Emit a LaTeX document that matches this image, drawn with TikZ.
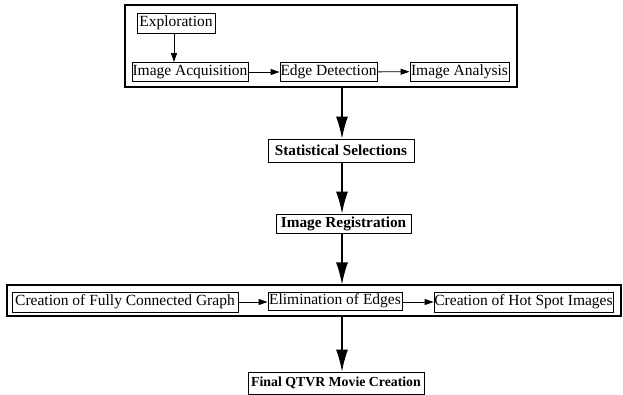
\documentclass[tikz,border=0pt]{standalone}
\usepackage{fontspec}
\setmainfont{Liberation Serif}
\usetikzlibrary{arrows.meta}
\begin{document}
\begin{tikzpicture}[x=1pt,y=-1pt,
  box/.style={draw, line width=0.9pt, inner sep=0pt, font=\fontsize{15.5}{18}\selectfont},
  bbox/.style={draw, line width=0.9pt, inner sep=0pt},
  frame/.style={draw, line width=1.1pt, inner sep=0pt},
  small/.style={line width=0.9pt, -{Triangle[length=9pt,width=6pt]}},
  big/.style={line width=1.2pt, -{Latex[length=22pt,width=12pt]}}]
\useasboundingbox (0,0) rectangle (623,394);
% top group
\node[frame, minimum width=392, minimum height=82] (top) at (321,46) {};
\node[box, minimum width=78, minimum height=20] (expl) at (176,23) {Exploration};
\node[box, minimum width=116, minimum height=19] (acq) at (190,72) {Image Acquisition};
\node[box, minimum width=97, minimum height=19] (edge) at (328.5,72) {Edge Detection};
\node[box, minimum width=99, minimum height=19] (anal) at (459.5,71.5) {Image Analysis};
% middle
\node[bbox, minimum width=146, minimum height=23, font=\fontsize{15.2}{18}\selectfont\bfseries] (ss) at (341,150.5) {Statistical Selections};
\node[bbox, minimum width=135, minimum height=19, font=\fontsize{15.3}{18}\selectfont\bfseries] (ir) at (343.5,223.5) {Image Registration};
% lower group
\node[frame, minimum width=614, minimum height=31] (low) at (314,300.5) {};
\node[box, minimum width=226, minimum height=20] (graph) at (125,302) {Creation of Fully Connected Graph};
\node[box, minimum width=134, minimum height=18] (elim) at (335,301) {Elimination of Edges};
\node[box, minimum width=179, minimum height=20] (hot) at (523.5,302) {Creation of Hot Spot Images};
\node[bbox, minimum width=176, minimum height=22, font=\fontsize{13.8}{18}\selectfont\bfseries] (final) at (336,383) {Final QTVR Movie Creation};
\coordinate (ax) at (342,0);
\coordinate (ex) at (174,0);
% small arrows
\draw[small] (expl.south -| ex) -- (acq.north -| ex);
\draw[small] (acq) -- (edge);
\draw[small] (edge) -- (anal);
\draw[small] (graph.east) -- (elim.west |- graph.east);
\draw[small] (elim.east |- graph.east) -- (hot.west);
% big arrows
\draw[big] (top.south -| ax) -- (ss.north -| ax);
\draw[big] (ss.south -| ax) -- (ir.north -| ax);
\draw[big] (ir.south -| ax) -- (low.north -| ax);
\draw[big] (low.south -| ax) -- (final.north -| ax);
\end{tikzpicture}
\end{document}
